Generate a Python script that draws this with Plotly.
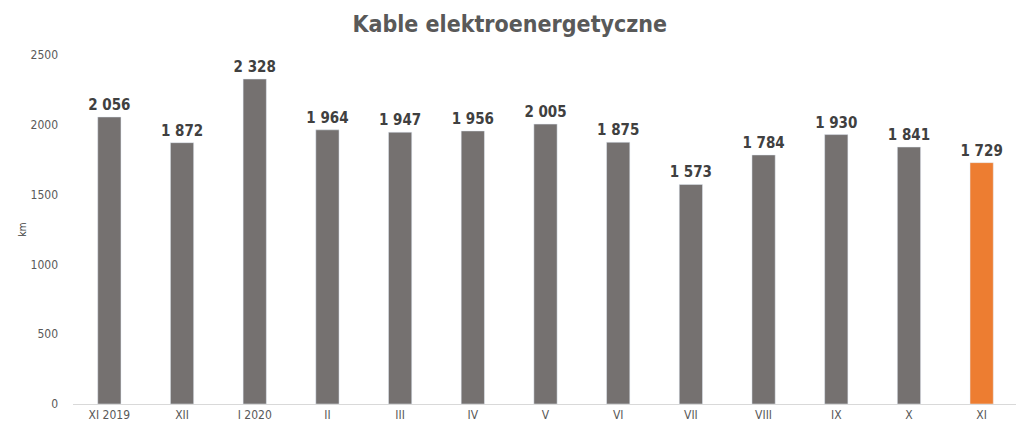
import plotly.graph_objects as go

categories = ["XI 2019", "XII", "I 2020", "II", "III", "IV", "V", "VI", "VII", "VIII", "IX", "X", "XI"]
values = [2056, 1872, 2328, 1964, 1947, 1956, 2005, 1875, 1573, 1784, 1930, 1841, 1729]

gray = "#757170"
orange = "#ED7D31"
colors = [gray] * (len(values) - 1) + [orange]
labels = [f"{v:,}".replace(",", " ") for v in values]

font = "DejaVu Sans Condensed, Liberation Sans Narrow, Arial Narrow, Liberation Sans, Arial, sans-serif"

fig = go.Figure(go.Bar(
    x=categories,
    y=values,
    marker_color=colors,
    text=labels,
    textposition="outside",
    constraintext="none",
    textfont=dict(family=font, size=15, color="#404040", weight="bold"),
    cliponaxis=False,
))

fig.update_layout(
    width=1024,
    height=435,
    margin=dict(l=65, r=14, t=47, b=39),
    paper_bgcolor="white",
    plot_bgcolor="white",
    bargap=0.68,
    showlegend=False,
    font=dict(family=font, color="#595959"),
    title=dict(
        text="<b>Kable elektroenergetyczne</b>",
        x=0.49, xanchor="center", y=0.963, yanchor="middle",
        font=dict(family=font, size=23, color="#595959"),
    ),
)
fig.update_xaxes(
    showline=True, linecolor="#d9d9d9", linewidth=1,
    tickfont=dict(size=12, color="#595959"),
    ticks="", automargin=False,
)
fig.update_yaxes(
    range=[0, 2500], dtick=500, showgrid=False, zeroline=False,
    tickfont=dict(size=12, color="#595959"),
    ticklabelstandoff=14, automargin=False,
    title=dict(text="km", font=dict(size=10, color="#404040"), standoff=2),
)

fig.write_html("out.html")
